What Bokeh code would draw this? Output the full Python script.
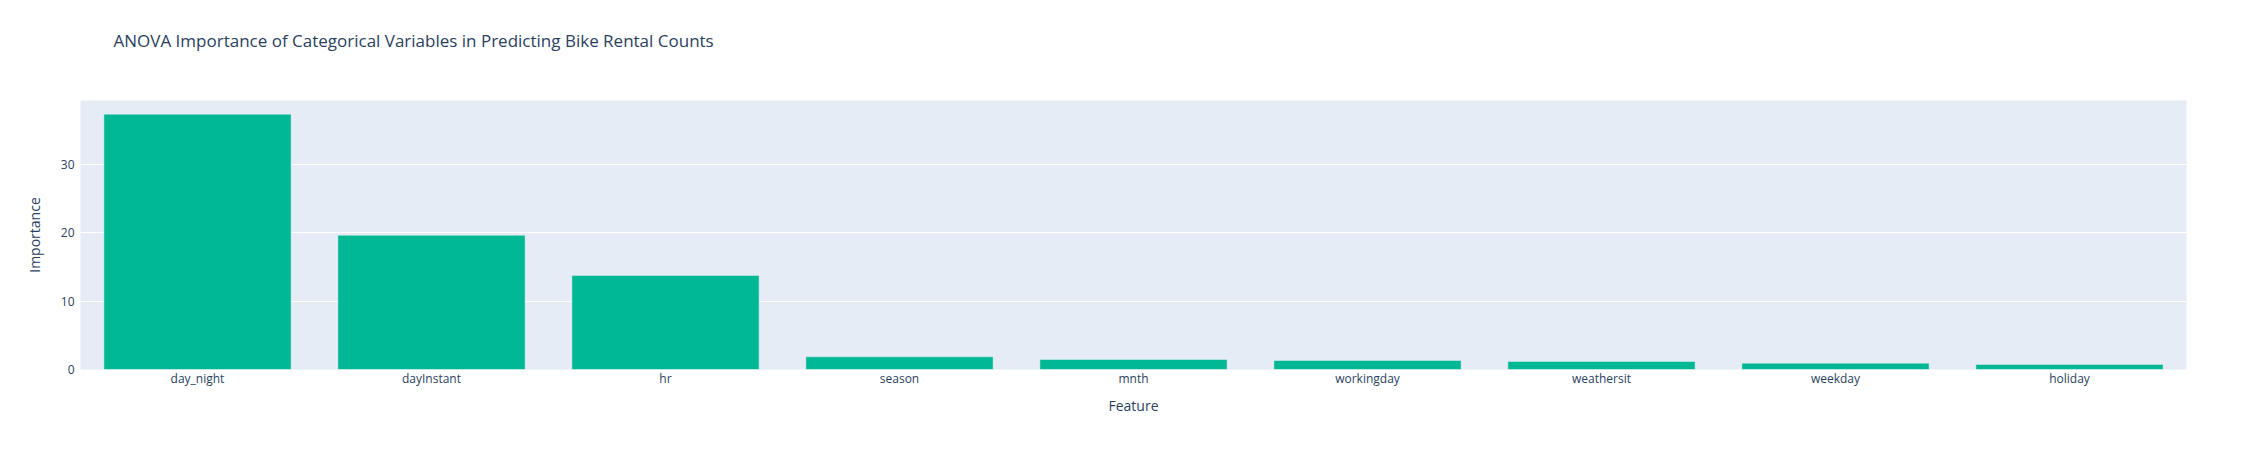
from bokeh.plotting import figure
from bokeh.models import ColumnDataSource, SingleIntervalTicker
from bokeh.embed import file_html
from bokeh.resources import INLINE

features = ["day_night", "dayInstant", "hr", "season", "mnth", "workingday", "weathersit", "weekday", "holiday"]
importance = [37.4, 19.66, 13.76, 1.86, 1.46, 1.32, 1.17, 0.92, 0.73]
title_text = "ANOVA Importance of Categorical Variables in Predicting Bike Rental Counts"

src = ColumnDataSource(dict(feature=features, importance=importance))

FONT = "Open Sans"
TXT = "#2a3f5f"

p = figure(x_range=features, y_range=(0, 39.4), width=2266, height=450,
           output_backend="svg", toolbar_location=None,
           background_fill_color="#E5ECF6", border_fill_color="white",
           min_border_left=80, min_border_right=80, min_border_top=100, min_border_bottom=81)

p.vbar(x="feature", top="importance", width=0.8, source=src,
       fill_color="#00b894", line_color="#E5ECF6", line_width=0.5)

# trailing blank line lifts the visible title line higher above the frame
p.title.text = title_text + "\n"
p.title.text_font = FONT
p.title.text_font_size = "17px"
p.title.text_font_style = "normal"
p.title.text_color = TXT
p.title.offset = 33
p.title.standoff = 51

p.xaxis.axis_label = "Feature"
p.yaxis.axis_label = "Importance"
for ax in (p.xaxis, p.yaxis):
    ax.axis_line_color = None
    ax.major_tick_line_color = None
    ax.minor_tick_line_color = None
    ax.major_label_text_font = FONT
    ax.major_label_text_font_size = "12px"
    ax.major_label_text_color = TXT
    ax.axis_label_text_font = FONT
    ax.axis_label_text_font_size = "14px"
    ax.axis_label_text_font_style = "normal"
    ax.axis_label_text_color = TXT
    ax.major_tick_out = 0
    ax.major_tick_in = 0

p.yaxis.ticker = SingleIntervalTicker(interval=10)
p.yaxis.major_label_standoff = 2
p.yaxis.axis_label_standoff = 14
p.xaxis.major_label_standoff = 0
p.xaxis.axis_label_standoff = 6

p.xgrid.grid_line_color = None
p.ygrid.grid_line_color = "white"
p.ygrid.grid_line_width = 1
p.outline_line_color = None

open("out.html", "w").write(file_html(p, INLINE))
